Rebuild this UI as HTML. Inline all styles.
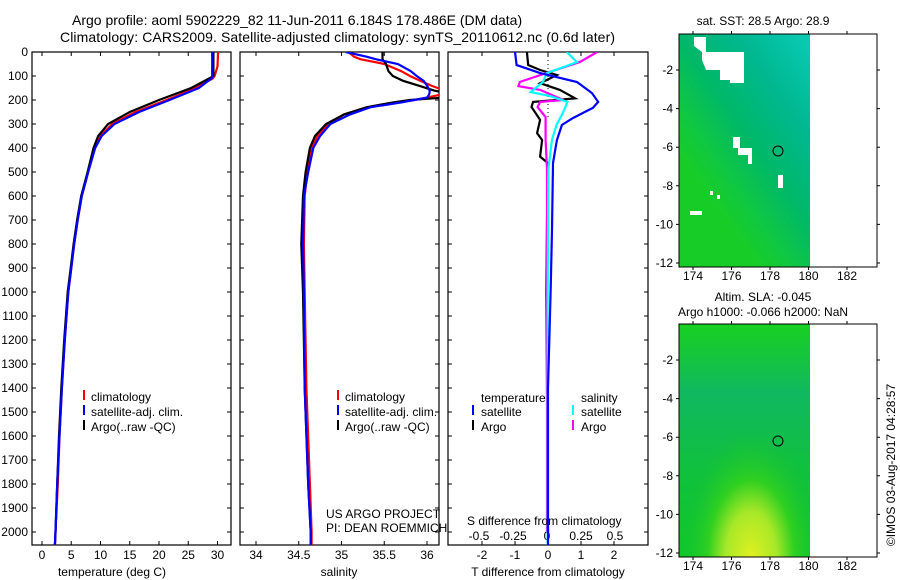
<!DOCTYPE html>
<html><head><meta charset="utf-8"><style>
html,body{margin:0;background:#fff;overflow:hidden;width:900px;height:580px}
svg{display:block;font-family:"Liberation Sans",sans-serif}
</style></head><body>
<svg id="fig" width="900" height="580" viewBox="0 0 900 580">
<defs>
<clipPath id="c1"><rect x="32" y="52" width="199" height="493"/></clipPath>
<clipPath id="c2"><rect x="240" y="52" width="199" height="493"/></clipPath>
<clipPath id="c3"><rect x="448" y="52" width="200" height="493"/></clipPath>
<linearGradient id="sstg" x1="0.9" y1="0" x2="0.3" y2="0.75">
<stop offset="0" stop-color="#08c8b0"/><stop offset="0.3" stop-color="#00b890"/><stop offset="0.6" stop-color="#00b868"/><stop offset="0.85" stop-color="#10c840"/><stop offset="1" stop-color="#18cc28"/></linearGradient>
<radialGradient id="slag" cx="0.55" cy="1.0" r="0.55"><stop offset="0" stop-color="#e0f020"/><stop offset="0.35" stop-color="#a8e828"/><stop offset="0.6" stop-color="#30d020"/><stop offset="1" stop-color="#10c038" stop-opacity="0"/></radialGradient>
<linearGradient id="slab" x1="0" y1="0" x2="0" y2="1"><stop offset="0" stop-color="#18d020"/><stop offset="0.3" stop-color="#10b860"/><stop offset="0.6" stop-color="#10c040"/><stop offset="1" stop-color="#10c828"/></linearGradient>
</defs>
<text x="72" y="25" font-size="14">Argo profile: aoml 5902229_82 11-Jun-2011 6.184S 178.486E (DM data)</text>
<text x="60" y="42" font-size="14" textLength="555">Climatology: CARS2009. Satellite-adjusted climatology: synTS_20110612.nc (0.6d later)</text>
<g id="g1"></g>
<g id="g2"></g>
<g id="g3"></g>

<g font-size="12">
<rect x="83" y="390" width="2" height="10" fill="#f00"/><text x="91" y="401">climatology</text>
<rect x="83" y="405" width="2" height="10" fill="#00f"/><text x="91" y="416">satellite-adj. clim.</text>
<rect x="83" y="420" width="2" height="10" fill="#000"/><text x="91" y="431">Argo(..raw -QC)</text>
</g>
<g font-size="12">
<rect x="337" y="390" width="2" height="10" fill="#f00"/><text x="345" y="401">climatology</text>
<rect x="337" y="405" width="2" height="10" fill="#00f"/><text x="345" y="416">satellite-adj. clim.</text>
<rect x="337" y="420" width="2" height="10" fill="#000"/><text x="345" y="431">Argo(..raw -QC)</text>
</g>
<g font-size="12">
<text x="481" y="402">temperature</text><text x="581" y="402">salinity</text>
<rect x="472" y="405" width="2" height="10" fill="#00f"/><text x="481" y="416">satellite</text>
<rect x="472" y="420" width="2" height="10" fill="#000"/><text x="481" y="431">Argo</text>
<rect x="572" y="405" width="2" height="10" fill="#0ff"/><text x="581" y="416">satellite</text>
<rect x="572" y="420" width="2" height="10" fill="#f0f"/><text x="581" y="431">Argo</text>
</g>
<text x="326" y="518" font-size="12">US ARGO PROJECT</text>
<text x="326" y="532" font-size="12">PI: DEAN ROEMMICH</text>
<text x="467" y="525" font-size="12">S difference from climatology</text>
<text x="112" y="576" font-size="12" text-anchor="middle">temperature (deg C)</text>
<text x="339" y="576" font-size="12" text-anchor="middle">salinity</text>
<text x="548" y="576" font-size="12" text-anchor="middle">T difference from climatology</text>

<g>
<text x="763" y="25" font-size="12" text-anchor="middle">sat. SST: 28.5 Argo: 28.9</text>
<rect x="679" y="34" width="131" height="233" fill="url(#sstg)"/>
<g fill="#fff">
<polygon points="694,37 706,37 706,52 744,52 744,83 730,83 730,80 720,80 720,70 706,70 702,60 702,52 694,46"/>
<polygon points="733,137 740,137 740,148 752,148 752,164 748,164 748,155 738,155 738,148 733,148"/>
<rect x="778" y="175" width="5" height="13"/><rect x="690" y="211" width="12" height="4"/>
<rect x="710" y="191" width="3" height="4"/><rect x="717" y="195" width="3" height="4"/>
</g>
<circle cx="778" cy="151" r="5" fill="none" stroke="#000"/>
<rect x="679" y="34" width="198" height="233" fill="none" stroke="#000"/>
</g>
<g>
<text x="763" y="301" font-size="12" text-anchor="middle">Altim. SLA: -0.045</text>
<text x="763" y="316" font-size="12" text-anchor="middle">Argo h1000: -0.066 h2000: NaN</text>
<rect x="679" y="324" width="131" height="233" fill="url(#slab)"/>
<rect x="679" y="324" width="131" height="233" fill="url(#slag)"/>
<circle cx="778" cy="441" r="5" fill="none" stroke="#000"/>
<rect x="679" y="324" width="198" height="233" fill="none" stroke="#000"/>
</g>
<text transform="translate(895,465) rotate(-90)" font-size="12" text-anchor="middle">©IMOS 03-Aug-2017 04:28:57</text>
<g id="maxes"></g>
</svg>
<script>
// ---- data ----
const depthT=[0,60,100,110,150,200,250,300,350,400,500,600,700,800,900,1000,1200,1400,1600,1800,2000,2055];
const tempClim=[30.1,30.0,29.5,29.2,26.3,21.3,16.0,12.0,10.0,9.0,7.9,6.8,6.1,5.5,5.0,4.5,3.9,3.4,3.0,2.7,2.3,2.2];
const tempSat=[29.1,29.1,29.1,29.0,26.8,21.8,16.6,12.4,10.2,9.1,7.9,6.8,6.1,5.5,5.0,4.5,3.9,3.4,3.0,2.6,2.3,2.2];
const tempArgo=[29.3,29.3,29.3,28.6,25.5,20.0,15.0,11.3,9.6,8.8,7.8,6.7,6.0,5.4,4.9,4.4,3.8,3.3,2.9,2.6,2.3,2.2];
const depthS=[0,20,30,50,80,100,120,140,160,170,180,190,200,210,230,260,300,350,400,500,600,800,1000,1400,1800,2000,2055];
const salClim=[35.08,35.15,35.22,35.5,35.7,35.8,35.92,36.05,36.2,36.25,36.13,36.0,35.85,35.65,35.3,35.03,34.84,34.72,34.65,34.6,34.57,34.56,34.57,34.59,34.63,34.65,34.65];
const salSat=[35.05,35.3,35.4,35.66,35.81,35.88,35.96,36.0,36.03,36.03,36.02,36.0,35.85,35.7,35.34,35.1,34.87,34.75,34.67,34.61,34.56,34.55,34.56,34.57,34.61,34.64,34.64];
const salArgo=[35.48,35.48,35.48,35.52,35.55,35.6,35.72,35.9,36.08,36.2,36.22,36.2,35.8,35.6,35.3,35.03,34.82,34.69,34.63,34.58,34.55,34.53,34.55,34.57,34.61,34.64,34.64];
const dTSatDepth=[0,54,88,125,171,208,233,275,304,367,463,742,1000,1400,2000,2055];
const dTSat=[-1.0,-0.95,-0.24,0.88,1.33,1.52,1.36,0.76,0.42,0.27,0.15,0.12,0.08,0.0,0.0,0.0];
const dTArgoDepth=[0,54,75,96,130,158,193,200,208,229,283,338,367,436,463,700,1000,1400,2000];
const dTArgo=[-0.64,-0.6,-0.24,0.27,-0.24,0.36,0.82,0.27,-0.45,-0.5,-0.24,-0.33,-0.18,-0.24,0,-0.03,-0.05,-0.03,0];
const dSSatDepth=[0,42,88,125,167,183,208,250,304,367,488,1000,2000,2055];
const dSSat=[0.145,0.22,0,-0.03,-0.12,0.02,0.15,0.12,0.07,0.036,0.01,0.005,0.005,0.005];
const dSArgoDepth=[0,42,83,125,142,158,200,208,229,271,367,488,1000,2000];
const dSArgo=[0.37,0.24,0.02,-0.2,-0.21,-0.05,0.12,-0.05,-0.07,-0.01,-0.01,0,0,0];
const depthTicks=[0,100,200,300,400,500,600,700,800,900,1000,1100,1200,1300,1400,1500,1600,1700,1800,1900,2000];
const tempTicks=[0,5,10,15,20,25,30];
const salTicks=[34,34.5,35,35.5,36];
const salTickLabels=["34","34.5","35","35.5","36"];
const tdTicks=[-2,-1,0,1,2];
const sdTicks=[-0.5,-0.25,0,0.25,0.5];
const sdTickLabels=["-0.5","-0.25","0","0.25","0.5"];
const lonTicks=[174,176,178,180,182];
const latTicks=[-2,-4,-6,-8,-10,-12];

const NS="http://www.w3.org/2000/svg";
const TOP=52,BOT=545;
const yD=d=>TOP+d*0.24;
const xT=v=>42+v*5.85;
const xS=v=>256+(v-34)*85.5;
const xTD=v=>548+v*33;
const xSD=v=>547+v*136;
const xLon=v=>693+(v-174)*19.25;
const yLat=v=>263-(v+12)*19.3;

function mk(tag,attrs,parent){const e=document.createElementNS(NS,tag);for(const k in attrs)e.setAttribute(k,attrs[k]);parent.appendChild(e);return e;}

function frame(g,x0,x1,xt,xfun,labels,labelY,yLabels){
  const r=mk('rect',{x:x0,y:TOP,width:x1-x0,height:BOT-TOP,fill:'none',stroke:'#000','stroke-width':1.2},g);
  
  
  depthTicks.forEach(d=>{
    const y=yD(d);
    const t=mk('path',{d:`M${x0} ${y}h4M${x1} ${y}h-4`,stroke:'#000'},g);
    
    
    if(yLabels){
      const l=mk('text',{x:x0-4,y:y+4,'font-size':12,'text-anchor':'end'},g);l.textContent=d;
      
      
    }
  });
  xt.forEach((v,i)=>{
    const x=xfun(v);
    const t=mk('path',{d:`M${x} ${TOP}v4M${x} ${BOT}v-4`,stroke:'#000'},g);
    
    
    if(labels){
      const l=mk('text',{x:x,y:labelY,'font-size':12,'text-anchor':'middle'},g);l.textContent=labels[i];
      
      
    }
  });
}
function line(g,clip,vals,depths,xf,color,name){
  const pts=vals.map((v,i)=>xf(v).toFixed(1)+','+yD(depths[i]).toFixed(1)).join(' ');
  const p=mk('polyline',{points:pts,fill:'none',stroke:color,'stroke-width':2.2,'clip-path':`url(#${clip})`},g);
  
  
}
const g1=document.getElementById('g1'),g2=document.getElementById('g2'),g3=document.getElementById('g3');
frame(g1,32,231,tempTicks,xT,tempTicks,559,true);
line(g1,'c1',tempClim,depthT,xT,'#f00','temp-climatology-line');
line(g1,'c1',tempArgo,depthT,xT,'#000','temp-argo-line');
line(g1,'c1',tempSat,depthT,xT,'#00f','temp-satellite-line');
frame(g2,240,439,salTicks,xS,salTickLabels,559,false);
line(g2,'c2',salClim,depthS,xS,'#f00','sal-climatology-line');
line(g2,'c2',salArgo,depthS,xS,'#000','sal-argo-line');
line(g2,'c2',salSat,depthS,xS,'#00f','sal-satellite-line');
frame(g3,448,648,tdTicks,xTD,tdTicks,559,false);
sdTicks.forEach((v,i)=>{
  const l=mk('text',{x:xSD(v),y:540,'font-size':12,'text-anchor':'middle'},g3);l.textContent=sdTickLabels[i];
  
  
});
const z=mk('path',{d:`M${xTD(0)} ${TOP}V118`,stroke:'#000','stroke-dasharray':'1,3'},g3);


line(g3,'c3',dTArgo,dTArgoDepth,xTD,'#000','t-diff-argo-line');
line(g3,'c3',dSArgo,dSArgoDepth,xSD,'#f0f','s-diff-argo-line');
line(g3,'c3',dSSat,dSSatDepth,xSD,'#0ff','s-diff-satellite-line');
line(g3,'c3',dTSat,dTSatDepth,xTD,'#00f','t-diff-satellite-line');

const ma=document.getElementById('maxes');
[[34,267,280],[324,557,570]].forEach(([y0,y1,ly])=>{
  lonTicks.forEach(v=>{
    const x=xLon(v);
    const t=mk('path',{d:`M${x} ${y0}v-3M${x} ${y1}v3`,stroke:'#000'},ma);
    
    
    const l=mk('text',{x:x,y:ly,'font-size':12,'text-anchor':'middle'},ma);l.textContent=v;
    
    
  });
  latTicks.forEach(v=>{
    const y=yLat(v)+(y0-34);
    const t=mk('path',{d:`M679 ${y}h-3M877 ${y}h3`,stroke:'#000'},ma);
    
    
    const l=mk('text',{x:673,y:y+4,'font-size':12,'text-anchor':'end'},ma);l.textContent=v;
    
    
  });
});
</script>
</body></html>
